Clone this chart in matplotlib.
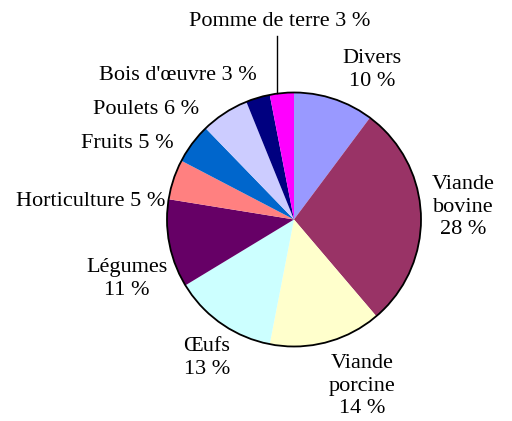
import matplotlib.pyplot as plt
from matplotlib.patches import Circle

plt.rcParams["font.family"] = ["Liberation Serif", "DejaVu Serif"]

categories = ["Divers", "Viande\nbovine", "Viande\nporcine", "Œufs", "Légumes",
              "Horticulture", "Fruits", "Poulets", "Bois d'œuvre", "Pomme de terre"]
shares = [10, 28, 14, 13, 11, 5, 5, 6, 3, 3]
colors = ["#9999FF", "#993366", "#FFFFCC", "#CCFFFF", "#660066",
          "#FF8080", "#0066CC", "#CCCCFF", "#000080", "#FF00FF"]

# label centres (pixels from top-left), and separator before the percent
label_pos = [(372, 70, "\n"), (463, 207, "\n"), (362, 386, "\n"), (207, 358, "\n"),
             (127, 279, "\n"), (91, 201, " "), (127, 143, " "), (146, 110, " "),
             (178, 75, " "), (280, 22, " ")]

W, H = 512, 421
CX, CY, R = 294, 219.5, 127

fig = plt.figure(figsize=(5.12, 4.21), dpi=100)
ax = fig.add_axes([0, 0, 1, 1])

ax.pie(shares, colors=colors, startangle=90, counterclock=False,
       center=(CX, H - CY), radius=R, wedgeprops={"linewidth": 0})
ax.add_patch(Circle((CX, H - CY), R, fill=False, edgecolor="black", linewidth=1.3))

for name, val, (x, y, sep) in zip(categories, shares, label_pos):
    ax.text(x, H - y, f"{name}{sep}{val} %", ha="center", va="center",
            fontsize=16, linespacing=1.22, color="black")

ax.plot([277, 277], [H - 36, H - 93], color="black", linewidth=1)

ax.set_xlim(0, W)
ax.set_ylim(0, H)
ax.set_aspect("equal")
ax.axis("off")

fig.savefig("out.png", dpi=100)
